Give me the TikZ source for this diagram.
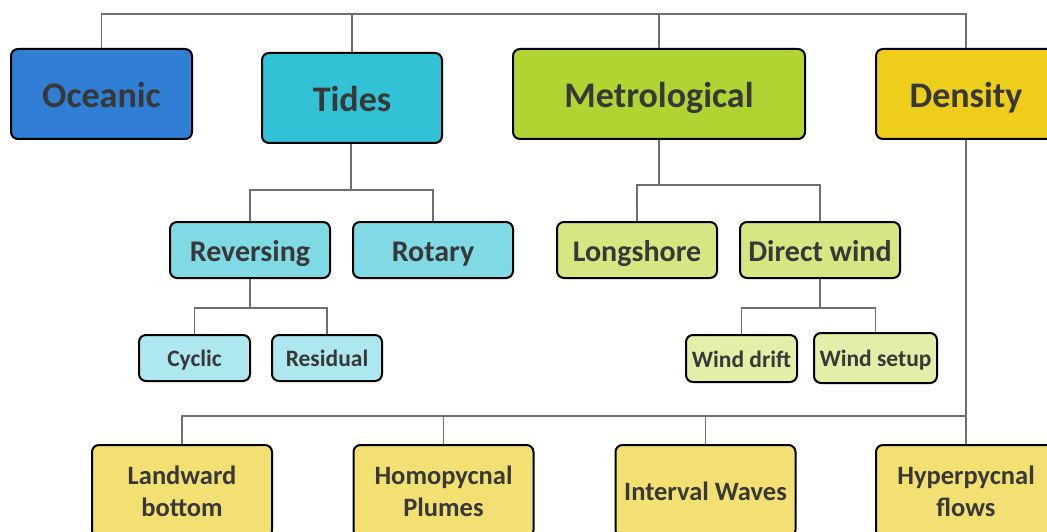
\documentclass[tikz,border=0pt]{standalone}
\usepackage{fontspec}
\setmainfont{Carlito}
\definecolor{txt}{HTML}{383838}
\definecolor{lnc}{HTML}{6E6E6E}
\definecolor{cOce}{HTML}{317ED5}
\definecolor{cTid}{HTML}{31C3D5}
\definecolor{cMet}{HTML}{B0D532}
\definecolor{cDen}{HTML}{EDCE1A}
\definecolor{cTid2}{HTML}{80DAE6}
\definecolor{cTid3}{HTML}{ADE7EF}
\definecolor{cMet2}{HTML}{D5E783}
\definecolor{cMet3}{HTML}{E2EFA8}
\definecolor{cDen2}{HTML}{F2E072}
\tikzset{
  box/.style={draw=black, line width=2pt, rounded corners=7pt, text=txt, font=\bfseries, align=center, inner sep=0pt},
  lvla/.style={box, text height=27pt, text depth=0pt, minimum height=90pt, font=\bfseries\fontsize{36}{40}\selectfont},
  lvlb/.style={box, text height=22.3pt, text depth=0pt, minimum width=160pt, minimum height=56pt, font=\bfseries\fontsize{30}{34}\selectfont},
  lvlc/.style={box, text height=17pt, text depth=0pt, minimum height=46pt, font=\bfseries\fontsize{23.5}{26}\selectfont},
  lvld/.style={box, minimum width=180pt, minimum height=92pt, fill=cDen2, font=\bfseries\fontsize{26.5}{32}\selectfont},
  conn/.style={draw=lnc, line width=1.4pt}
}
\begin{document}
\begin{tikzpicture}[x=1pt,y=-1pt]
\useasboundingbox (0,0) rectangle (1047,532);
\clip (0,0) rectangle (1047,532);
% top level
\node[lvla, fill=cOce, minimum width=181pt] (oce) at (101.5,94) {Oceanic};
\node[lvla, fill=cTid, minimum width=180pt] (tid) at (352,98) {Tides};
\node[lvla, fill=cMet, minimum width=292pt] (met) at (659,94) {Metrological};
\node[lvla, fill=cDen, minimum width=180pt] (den) at (966,94) {Density};
% second level
\node[lvlb, fill=cTid2] (rev) at (250,250) {Reversing};
\node[lvlb, fill=cTid2] (rot) at (433,250) {Rotary};
\node[lvlb, fill=cMet2] (lon) at (637,250) {Longshore};
\node[lvlb, fill=cMet2] (dir) at (820,250) {Direct wind};
% third level
\node[lvlc, fill=cTid3, minimum width=111pt] (cyc) at (194.5,358) {Cyclic};
\node[lvlc, fill=cTid3, minimum width=110pt] (res) at (327,358) {Residual};
\node[lvlc, fill=cMet3, minimum width=111pt, minimum height=47pt] (wdr) at (741.5,358.5) {Wind drift};
\node[lvlc, fill=cMet3, minimum width=123pt, minimum height=50pt] (wse) at (875.5,358) {Wind setup};
% bottom level
\node[lvld] (lan) at (182,491) {Landward\\bottom};
\node[lvld] (hom) at (443.5,491) {Homopycnal\\Plumes};
\node[lvld] (int) at (705.5,491) {Interval Waves};
\node[lvld] (hyp) at (966,491) {Hyperpycnal\\flows};
% junction coordinates
\coordinate (jtop) at (0,14);
\coordinate (jtid) at (351,190);
\coordinate (jrev) at (250,308);
\coordinate (jmet) at (659,185);
\coordinate (jdir) at (820,308);
\coordinate (jden) at (966,416);
% connectors
\draw[conn] (oce.north) -- (oce.north |- jtop) -- (den.north |- jtop) -- (den.north);
\draw[conn] (tid.north) -- (tid.north |- jtop);
\draw[conn] (met.north) -- (met.north |- jtop);
\draw[conn] (tid.south -| jtid) -- (jtid);
\draw[conn] (rev.north) -- (rev.north |- jtid) -- (rot.north |- jtid) -- (rot.north);
\draw[conn] (rev.south) -- (jrev);
\draw[conn] (cyc.north) -- (cyc.north |- jrev) -- (res.north |- jrev) -- (res.north);
\draw[conn] (met.south) -- (jmet);
\draw[conn] (lon.north) -- (lon.north |- jmet) -- (dir.north |- jmet) -- (dir.north);
\draw[conn] (dir.south) -- (jdir);
\draw[conn] (wdr.north) -- (wdr.north |- jdir) -- (wse.north |- jdir) -- (wse.north);
\draw[conn] (den.south) -- (hyp.north);
\draw[conn] (lan.north) -- (lan.north |- jden) -- (jden);
\draw[conn] (hom.north) -- (hom.north |- jden);
\draw[conn] (int.north) -- (int.north |- jden);
\end{tikzpicture}
\end{document}
